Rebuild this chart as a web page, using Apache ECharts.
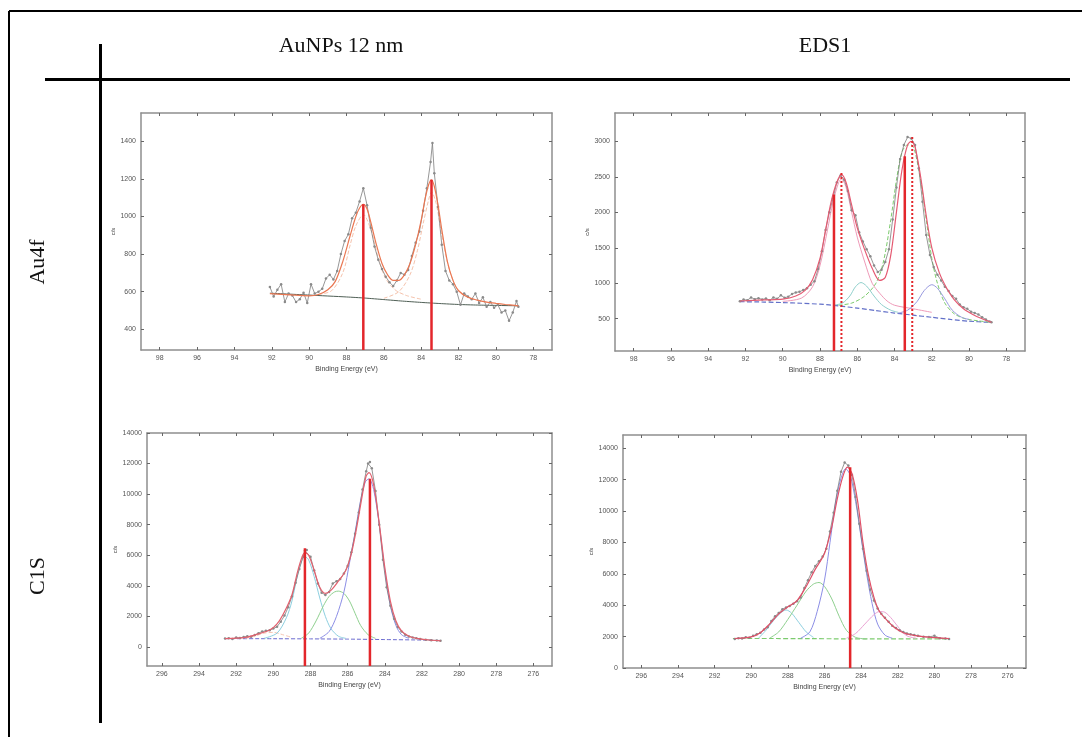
<!DOCTYPE html>
<html>
<head>
<meta charset="utf-8">
<script src="https://cdn.jsdelivr.net/npm/echarts@6/dist/echarts.min.js"></script>
<style>
  html, body { margin: 0; padding: 0; background: #fff; }
  #chart { width: 1082px; height: 737px; }
</style>
</head>
<body>
<div id="chart"></div>
<script>
// ---------- Tick values ----------
const au4fTicksX = [78, 80, 82, 84, 86, 88, 90, 92, 94, 96, 98];
const c1sTicksX = [276, 278, 280, 282, 284, 286, 288, 290, 292, 294, 296];
const auNpAu4fTicksY = [400, 600, 800, 1000, 1200, 1400];
const eds1Au4fTicksY = [500, 1000, 1500, 2000, 2500, 3000];
const c1sTicksY = [0, 2000, 4000, 6000, 8000, 10000, 12000, 14000];

// ---------- AuNPs 12 nm, Au 4f ----------
const auNpAu4fRawE = [92.1,91.9,91.7,91.5,91.3,91.1,90.9,90.7,90.5,90.3,90.1,89.9,89.7,89.5,89.3,89.1,88.9,88.7,88.5,88.3,88.1,87.9,87.7,87.5,87.3,87.1,86.9,86.7,86.5,86.3,86.1,85.9,85.7,85.5,85.3,85.1,84.9,84.7,84.5,84.3,84.1,83.9,83.7,83.5,83.4,83.3,83.1,82.9,82.7,82.5,82.3,82.1,81.9,81.7,81.5,81.3,81.1,80.9,80.7,80.5,80.3,80.1,79.9,79.7,79.5,79.3,79.1,78.9,78.8];
const auNpAu4fRawC = [625,575,610,640,545,590,580,545,560,595,540,640,590,600,615,670,690,665,710,800,870,905,990,1020,1080,1150,1060,940,840,770,720,680,650,630,660,700,690,715,790,860,920,1030,1150,1290,1390,1230,1050,850,710,660,640,600,530,590,575,560,590,540,570,520,545,515,530,490,500,445,490,550,520];
const auNpAu4fFitE = [92.1,91,90,89.5,89,88.6,88.2,87.8,87.5,87.3,87.1,86.9,86.7,86.4,86.1,85.8,85.5,85.2,84.9,84.6,84.3,84,83.8,83.6,83.45,83.3,83.1,82.9,82.6,82.3,82,81.5,81,80.5,80,79.5,79,78.8];
const auNpAu4fFitC = [590,583,578,585,610,655,760,900,1000,1045,1065,1040,970,850,750,690,660,660,690,750,850,980,1090,1170,1195,1160,1060,930,760,660,605,570,555,545,538,532,527,525];
const auNpAu4fBgE = [92.1,90,88,87,86,85,84,83,82,81,80,78.8];
const auNpAu4fBgC = [592,582,572,566,558,550,543,537,532,529,527,525];
const auNpAu4fCompAE = [89.5,88.8,88.2,87.8,87.5,87.1,86.7,86.3,85.9,85.4,84.8,84];
const auNpAu4fCompAC = [585,605,700,850,950,1010,930,780,670,610,580,560];
const auNpAu4fCompBE = [86,85.2,84.6,84.2,83.9,83.6,83.45,83.2,82.9,82.5,82.1,81.5,80.5];
const auNpAu4fCompBC = [565,600,690,820,960,1090,1130,1070,900,720,620,570,545];
const auNpAu4fPeakE = [87.1, 83.45];
const auNpAu4fPeakH = [1065, 1195];

// ---------- EDS1, Au 4f ----------
const eds1Au4fRawE = [92.3,92.1,91.9,91.7,91.5,91.3,91.1,90.9,90.7,90.5,90.3,90.1,89.9,89.7,89.5,89.3,89.1,88.9,88.7,88.5,88.3,88.1,87.9,87.7,87.5,87.3,87.1,86.9,86.7,86.5,86.3,86.1,85.9,85.7,85.5,85.3,85.1,84.9,84.7,84.5,84.3,84.1,83.9,83.7,83.5,83.3,83.1,82.9,82.7,82.5,82.3,82.1,81.9,81.7,81.5,81.3,81.1,80.9,80.7,80.5,80.3,80.1,79.9,79.7,79.5,79.3,79.1,78.9,78.8];
const eds1Au4fRawC = [745,770,760,800,775,790,770,785,760,800,780,830,795,810,850,870,880,905,930,980,1030,1200,1450,1750,2000,2200,2420,2520,2460,2300,2030,1960,1720,1590,1480,1380,1250,1160,1190,1300,1480,1900,2350,2750,2950,3060,3040,2950,2620,2150,1680,1400,1230,1120,1040,950,890,820,780,700,660,640,600,580,560,520,490,460,450];
const eds1Au4fFitE = [92.3,91,90,89.3,88.8,88.4,88,87.7,87.4,87.1,86.85,86.6,86.3,86,85.6,85.2,84.8,84.5,84.2,83.9,83.6,83.3,83.1,82.9,82.6,82.3,82,81.6,81.2,80.8,80.3,79.8,79.3,78.8];
const eds1Au4fFitC = [750,765,775,820,900,1050,1350,1750,2150,2420,2530,2420,2100,1780,1470,1210,1040,1080,1400,2000,2600,2950,3000,2920,2500,1950,1500,1150,930,770,640,560,500,450];
const eds1Au4fBgE = [92.3,91,90,89,88,87.5,87,86,85,84,83,82,81,80,79,78.8];
const eds1Au4fBgC = [740,735,728,718,705,695,680,650,615,580,550,520,490,465,450,448];
const eds1Au4fPinkE = [90,89,88.4,88,87.6,87.3,87,86.85,86.6,86.3,86,85.6,85.2,84.8,84.4,84,83,82];
const eds1Au4fPinkC = [745,790,950,1250,1750,2150,2420,2470,2350,2000,1650,1300,1000,860,750,690,640,590];
const eds1Au4fGreenE = [87,86.3,85.6,85,84.6,84.2,83.9,83.6,83.3,83.1,82.9,82.6,82.3,82,81.7,81.3,80.8,80.2,79.5,78.8];
const eds1Au4fGreenC = [690,720,820,1000,1300,1900,2450,2850,2950,2950,2850,2450,1900,1350,1000,720,570,500,470,450];
const eds1Au4fCyanE = [87.3,86.8,86.4,86.1,85.8,85.5,85.1,84.7,84.2,83.8];
const eds1Au4fCyanC = [690,720,820,950,1010,960,820,700,620,590];
const eds1Au4fBlueE = [83.8,83.3,82.8,82.4,82,81.7,81.3,80.9,80.4,80];
const eds1Au4fBlueC = [580,620,740,900,980,930,780,620,520,490];
const eds1Au4fPeakE = [87.25, 83.45];
const eds1Au4fPeakH = [2250, 2790];
const eds1Au4fShiftE = [86.85, 83.05];
const eds1Au4fShiftH = [2580, 3090];

// ---------- AuNPs 12 nm, C 1s ----------
const auNpC1sRawE = [292.6,292.4,292.2,292.0,291.8,291.6,291.4,291.2,291.0,290.8,290.6,290.4,290.2,290.0,289.8,289.6,289.4,289.2,289.0,288.8,288.6,288.4,288.3,288.2,288.0,287.8,287.6,287.4,287.2,287.0,286.8,286.6,286.4,286.2,286.0,285.8,285.6,285.4,285.2,285.0,284.9,284.8,284.7,284.5,284.3,284.1,283.9,283.7,283.5,283.3,283.1,282.9,282.7,282.5,282.3,282.1,281.8,281.5,281.2,281.0];
const auNpC1sRawC = [545,560,520,610,580,640,700,660,780,900,1000,1050,1090,1200,1320,1650,2050,2600,3300,4200,5100,5900,6300,6350,5900,5000,4150,3550,3400,3600,4150,4300,4450,4800,5300,6200,7400,8800,10300,11500,12000,12100,11700,10200,8000,5700,3900,2700,1850,1300,1000,800,680,620,560,520,470,440,420,400];
const auNpC1sFitE = [292.6,291.5,290.8,290.2,289.8,289.4,289,288.7,288.45,288.3,288.1,287.8,287.5,287.2,286.9,286.5,286.1,285.8,285.5,285.2,285,284.85,284.6,284.3,284,283.7,283.4,283.1,282.7,282.2,281.6,281];
const auNpC1sFitC = [540,620,850,1100,1500,2300,3400,4900,5900,6150,6000,5000,3900,3500,3700,4300,5000,6100,7900,10000,11200,11400,10600,8100,5200,3000,1700,1050,700,540,450,400];
const auNpC1sBgE = [292.6,290,288,286,284,282,281];
const auNpC1sBgC = [540,535,525,510,480,450,420];
const auNpC1sCyanE = [290.5,289.8,289.3,289,288.7,288.45,288.3,288.1,287.8,287.5,287.2,286.9,286.5,286.1];
const auNpC1sCyanC = [560,900,1900,3000,4700,5700,5900,5700,4600,3200,2000,1200,700,560];
const auNpC1sGreenE = [288.5,288.1,287.7,287.3,287,286.7,286.5,286.2,285.9,285.6,285.3,284.9,284.5];
const auNpC1sGreenC = [560,900,1700,2700,3300,3600,3650,3500,3000,2200,1400,800,560];
const auNpC1sBlueE = [287.5,287,286.6,286.2,285.9,285.6,285.3,285.05,284.85,284.6,284.3,284,283.7,283.4,283.1,282.7];
const auNpC1sBlueC = [560,1000,2000,3600,5500,7500,9600,10800,11000,10300,8000,5000,2700,1400,800,560];
const auNpC1sOrangeE = [291.5,291,290.5,290,289.5,289];
const auNpC1sOrangeC = [560,700,900,950,800,620];
const auNpC1sPeakE = [288.3, 284.8];
const auNpC1sPeakH = [6450, 11000];

// ---------- EDS1, C 1s ----------
const eds1C1sRawE = [290.9,290.7,290.5,290.3,290.1,289.9,289.7,289.5,289.3,289.1,288.9,288.7,288.5,288.3,288.1,287.9,287.7,287.5,287.3,287.1,286.9,286.7,286.5,286.3,286.1,285.9,285.7,285.5,285.3,285.1,284.9,284.7,284.5,284.3,284.1,283.9,283.7,283.5,283.3,283.1,282.9,282.7,282.5,282.3,282.1,281.9,281.7,281.5,281.3,281.1,280.9,280.6,280.3,280.0,279.7,279.4,279.2];
const eds1C1sRawC = [1850,1900,1880,1960,1930,2050,2150,2250,2450,2600,3000,3300,3500,3750,3850,3950,4100,4250,4500,5100,5600,6100,6500,6800,7100,7600,8700,9900,11300,12500,13100,12900,12300,10900,9200,7600,6200,5000,4300,3800,3450,3200,2950,2700,2550,2400,2300,2200,2150,2100,2060,1990,1980,2050,1900,1880,1850];
const eds1C1sFitE = [290.9,290,289.5,289,288.5,288,287.5,287,286.5,286,285.6,285.3,285,284.75,284.5,284.2,283.9,283.6,283.3,283,282.6,282.2,281.7,281.2,280.5,279.9,279.2];
const eds1C1sFitC = [1880,1980,2250,2800,3450,3900,4300,5200,6300,7300,9000,10800,12200,12800,12400,10700,8000,5900,4500,3600,3050,2600,2250,2100,1980,1930,1880];
const eds1C1sBgE = [291,289,287,285,283,281,279.2];
const eds1C1sBgC = [1880,1880,1870,1860,1850,1850,1850];
const eds1C1sBlueE = [287.3,286.8,286.4,286,285.7,285.4,285.1,284.85,284.6,284.3,284,283.7,283.4,283.1,282.7,282.3];
const eds1C1sBlueC = [1900,2300,3600,5600,8000,10500,12100,12700,12300,10600,8300,6000,4100,2800,2100,1900];
const eds1C1sGreenE = [289,288.5,288,287.5,287,286.6,286.3,286,285.6,285.2,284.8,284.3,283.7];
const eds1C1sGreenC = [1900,2300,3100,4000,4900,5350,5450,5200,4400,3300,2400,1950,1850];
const eds1C1sCyanE = [289.6,289.2,288.8,288.4,288.1,287.8,287.4,287,286.6];
const eds1C1sCyanC = [1900,2400,3000,3500,3700,3500,2900,2300,1950];
const eds1C1sPinkE = [284.8,284.3,283.8,283.3,283,282.7,282.3,281.9,281.5,281];
const eds1C1sPinkC = [1900,2200,2800,3400,3600,3550,3100,2500,2050,1900];
const eds1C1sPeakE = [284.6];
const eds1C1sPeakH = [12800];

// ---------- Panel geometry and axis ranges ----------
const panels = [
  { grid: { left: 141, top: 113, width: 411, height: 237 }, x: [77, 99], xt: au4fTicksX, y: [290, 1550], yt: auNpAu4fTicksY, yGap: 20 },
  { grid: { left: 615, top: 113, width: 410, height: 238 }, x: [77, 99], xt: au4fTicksX, y: [45, 3400], yt: eds1Au4fTicksY, yGap: 25 },
  { grid: { left: 147, top: 433, width: 405, height: 233 }, x: [275, 296.8], xt: c1sTicksX, y: [-1250, 14000], yt: c1sTicksY, yGap: 25 },
  { grid: { left: 623, top: 435, width: 403, height: 233 }, x: [275, 297], xt: c1sTicksX, y: [0, 14850], yt: c1sTicksY, yGap: 29 }
];

const AXIS_COLOR = '#8e8e8e';
const LABEL_STYLE = { fontSize: 7, color: '#555', fontFamily: 'Liberation Sans' };

const grids = [], xAxes = [], yAxes = [], series = [];

panels.forEach((p, gi) => {
  grids.push(Object.assign({ containLabel: false }, p.grid));
  const line = { show: true, onZero: false, lineStyle: { color: AXIS_COLOR, width: 1.5 } };
  const tickX = { show: true, inside: true, length: 3, customValues: p.xt, lineStyle: { color: '#666', width: 1 } };
  const tickY = { show: true, inside: true, length: 3, customValues: p.yt, lineStyle: { color: '#666', width: 1 } };
  xAxes.push({
    gridIndex: gi, type: 'value', inverse: true, min: p.x[0], max: p.x[1], position: 'bottom',
    axisLine: line, axisTick: tickX, splitLine: { show: false },
    axisLabel: Object.assign({ customValues: p.xt, margin: 5, formatter: v => String(v) }, LABEL_STYLE),
    name: 'Binding Energy (eV)', nameLocation: 'middle', nameGap: 16,
    nameTextStyle: { fontSize: 7, color: '#444', fontFamily: 'Liberation Sans' }
  });
  xAxes.push({
    gridIndex: gi, type: 'value', inverse: true, min: p.x[0], max: p.x[1], position: 'top',
    axisLine: line, axisTick: tickX, axisLabel: { show: false }, splitLine: { show: false }
  });
  yAxes.push({
    gridIndex: gi, type: 'value', min: p.y[0], max: p.y[1], position: 'left',
    axisLine: line, axisTick: tickY, splitLine: { show: false },
    axisLabel: Object.assign({ customValues: p.yt, margin: 5, formatter: v => String(v) }, LABEL_STYLE),
    name: 'c/s', nameLocation: 'middle', nameGap: p.yGap, nameRotate: 90,
    nameTextStyle: { fontSize: 6, color: '#444', fontFamily: 'Liberation Sans' }
  });
  yAxes.push({
    gridIndex: gi, type: 'value', min: p.y[0], max: p.y[1], position: 'right',
    axisLine: line, axisTick: tickY, axisLabel: { show: false }, splitLine: { show: false }
  });
});

function pairs(E, C) { return E.map((e, i) => [e, C[i]]); }

function curve(gi, E, C, color, width, type, z, smooth) {
  series.push({
    type: 'line', xAxisIndex: 2 * gi, yAxisIndex: 2 * gi, data: pairs(E, C),
    showSymbol: false, smooth: smooth === undefined ? 0.3 : smooth, z: z,
    lineStyle: { color: color, width: width, type: type }
  });
}

function raw(gi, E, C) {
  series.push({
    type: 'line', xAxisIndex: 2 * gi, yAxisIndex: 2 * gi, data: pairs(E, C),
    symbol: 'circle', symbolSize: 2.5, showSymbol: true, z: 3,
    itemStyle: { color: '#8a8a8a' },
    lineStyle: { color: '#7c7c7c', width: 0.8 }
  });
}

function sticks(gi, E, H, type, width) {
  const base = panels[gi].y[0];
  E.forEach((e, i) => {
    series.push({
      type: 'line', xAxisIndex: 2 * gi, yAxisIndex: 2 * gi,
      data: [[e, base], [e, H[i]]], showSymbol: false, z: 10,
      lineStyle: { color: '#e3262b', width: width, type: type }
    });
  });
}

// Au 4f, AuNPs 12 nm
curve(0, auNpAu4fBgE, auNpAu4fBgC, '#4f5f55', 1, 'solid', 2, 0.2);
curve(0, auNpAu4fCompAE, auNpAu4fCompAC, '#f5c3ad', 1, 'dashed', 2);
curve(0, auNpAu4fCompBE, auNpAu4fCompBC, '#f5c3ad', 1, 'dashed', 2);
raw(0, auNpAu4fRawE, auNpAu4fRawC);
curve(0, auNpAu4fFitE, auNpAu4fFitC, '#ea7752', 1.2, 'solid', 4);
sticks(0, auNpAu4fPeakE, auNpAu4fPeakH, 'solid', 2.5);

// Au 4f, EDS1
curve(1, eds1Au4fBgE, eds1Au4fBgC, '#6270c8', 1.2, 'dashed', 2, 0.2);
curve(1, eds1Au4fPinkE, eds1Au4fPinkC, '#ef9ab8', 1, 'solid', 2);
curve(1, eds1Au4fGreenE, eds1Au4fGreenC, '#7ccb6e', 1, 'dashed', 2);
curve(1, eds1Au4fCyanE, eds1Au4fCyanC, '#8fd0cc', 1, 'solid', 2);
curve(1, eds1Au4fBlueE, eds1Au4fBlueC, '#9a9be0', 1, 'solid', 2);
raw(1, eds1Au4fRawE, eds1Au4fRawC);
curve(1, eds1Au4fFitE, eds1Au4fFitC, '#e55a72', 1.2, 'solid', 4);
sticks(1, eds1Au4fPeakE, eds1Au4fPeakH, 'solid', 2.5);
sticks(1, eds1Au4fShiftE, eds1Au4fShiftH, 'dotted', 2);

// C 1s, AuNPs 12 nm
curve(2, auNpC1sBgE, auNpC1sBgC, '#6b6bd0', 1, 'dashed', 2, 0.2);
curve(2, auNpC1sOrangeE, auNpC1sOrangeC, '#f6c6b4', 1, 'dashed', 2);
curve(2, auNpC1sCyanE, auNpC1sCyanC, '#8ccfe0', 1, 'solid', 2);
curve(2, auNpC1sGreenE, auNpC1sGreenC, '#8fd08f', 1, 'solid', 2);
curve(2, auNpC1sBlueE, auNpC1sBlueC, '#8c8ee6', 1, 'solid', 2);
raw(2, auNpC1sRawE, auNpC1sRawC);
curve(2, auNpC1sFitE, auNpC1sFitC, '#e2606e', 1.2, 'solid', 4);
sticks(2, auNpC1sPeakE, auNpC1sPeakH, 'solid', 2.5);

// C 1s, EDS1
curve(3, eds1C1sBgE, eds1C1sBgC, '#7ccb6e', 1.2, 'dashed', 2, 0.2);
curve(3, eds1C1sCyanE, eds1C1sCyanC, '#8ccfe0', 1, 'solid', 2);
curve(3, eds1C1sGreenE, eds1C1sGreenC, '#8fd08f', 1, 'solid', 2);
curve(3, eds1C1sBlueE, eds1C1sBlueC, '#8c8ee6', 1, 'solid', 2);
curve(3, eds1C1sPinkE, eds1C1sPinkC, '#eba3d4', 1, 'solid', 2);
raw(3, eds1C1sRawE, eds1C1sRawC);
curve(3, eds1C1sFitE, eds1C1sFitC, '#e05068', 1.2, 'solid', 4);
sticks(3, eds1C1sPeakE, eds1C1sPeakH, 'solid', 2.5);

// ---------- Table frame and headings ----------
const headFont = { fontFamily: 'Liberation Serif', fontSize: 22, fill: '#111' };
const graphic = [
  { type: 'line', shape: { x1: 9, y1: 11, x2: 1082, y2: 11 }, style: { stroke: '#000', lineWidth: 2 } },
  { type: 'line', shape: { x1: 9, y1: 11, x2: 9, y2: 737 }, style: { stroke: '#000', lineWidth: 2 } },
  { type: 'line', shape: { x1: 45, y1: 79.5, x2: 1070, y2: 79.5 }, style: { stroke: '#000', lineWidth: 3 } },
  { type: 'line', shape: { x1: 100.5, y1: 44, x2: 100.5, y2: 723 }, style: { stroke: '#000', lineWidth: 3 } },
  { type: 'text', x: 341, y: 46, style: Object.assign({ text: 'AuNPs 12 nm', textAlign: 'center', textVerticalAlign: 'middle' }, headFont) },
  { type: 'text', x: 825, y: 46, style: Object.assign({ text: 'EDS1', textAlign: 'center', textVerticalAlign: 'middle' }, headFont) },
  { type: 'text', x: 38, y: 262, rotation: Math.PI / 2, style: Object.assign({ text: 'Au4f', textAlign: 'center', textVerticalAlign: 'middle' }, headFont) },
  { type: 'text', x: 38, y: 576, rotation: Math.PI / 2, style: Object.assign({ text: 'C1S', textAlign: 'center', textVerticalAlign: 'middle' }, headFont) }
];

const chart = echarts.init(document.getElementById('chart'), null, { renderer: 'canvas' });
chart.setOption({
  animation: false,
  backgroundColor: '#fff',
  grid: grids,
  xAxis: xAxes,
  yAxis: yAxes,
  series: series,
  graphic: graphic
});
</script>
</body>
</html>
